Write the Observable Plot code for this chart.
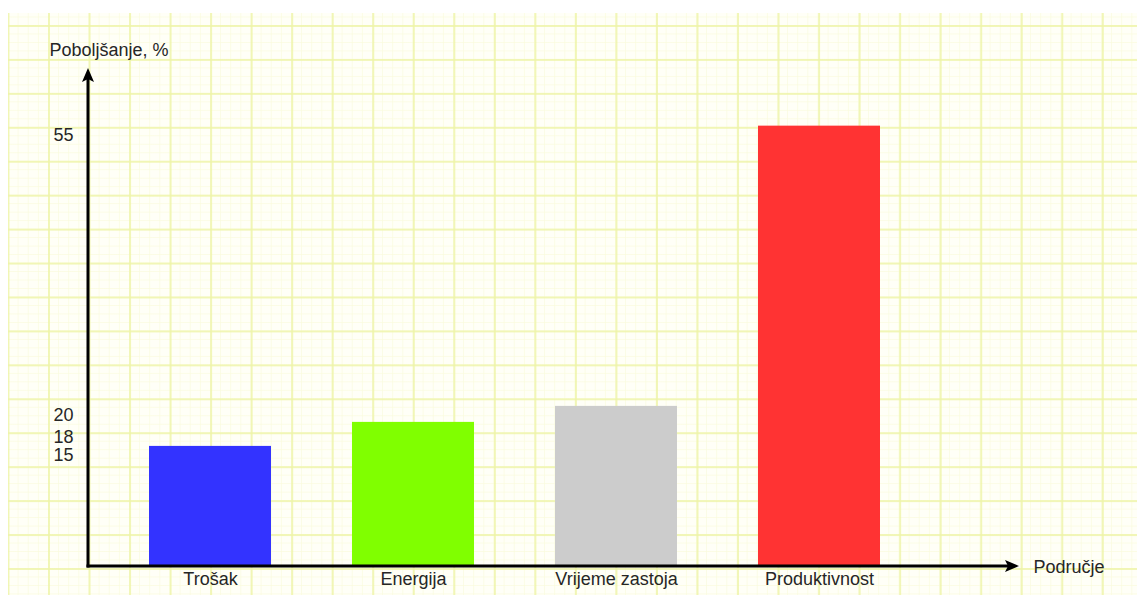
<!DOCTYPE html>
<html>
<head>
<meta charset="utf-8">
<script src="https://cdn.jsdelivr.net/npm/d3@7"></script>
<script src="https://cdn.jsdelivr.net/npm/@observablehq/plot@0.6"></script>
<style>
  html, body { margin: 0; padding: 0; background: #ffffff; }
  #wrap { position: relative; width: 1137px; height: 595px; overflow: hidden; }
  #grid {
    position: absolute; left: 8px; top: 13px; right: 0; bottom: 0;
    background-color: #fffff7;
    background-image:
      linear-gradient(to right, rgba(238, 244, 168, 0.8) 1.5px, transparent 1.5px),
      linear-gradient(to bottom, rgba(238, 244, 168, 0.8) 1.5px, transparent 1.5px),
      linear-gradient(to right, rgba(250, 251, 222, 0.75) 1px, transparent 1px),
      linear-gradient(to bottom, rgba(250, 251, 222, 0.75) 1px, transparent 1px);
    background-size: 40.54px 33.95px, 40.54px 33.95px, 10.135px 8.4875px, 10.135px 8.4875px;
    background-position: -0.5px 12px, -0.5px 12px, -0.5px 12px, -0.5px 12px;
  }
  #chart { position: absolute; left: 0; top: 0; }
</style>
</head>
<body>
<div id="wrap"><div id="grid"></div><div id="chart"></div></div>
<script>
const categories = ["Trošak", "Energija", "Vrijeme zastoja", "Produktivnost"];
const values = [15, 18, 20, 55];
const barColors = ["#3333ff", "#80ff00", "#cccccc", "#ff3333"];
const yTicks = [15, 18, 20, 55];
const yAxisLabel = "Poboljšanje, %";
const xAxisLabel = "Područje";

const data = categories.map((c, i) => ({category: c, value: values[i]}));

const plot = Plot.plot({
  width: 1137,
  height: 595,
  marginLeft: 88,
  marginRight: 118,
  marginTop: 68,
  marginBottom: 29,
  style: {background: "transparent", fontFamily: "'Liberation Sans', Arial, sans-serif", fontSize: "18px", color: "#262626"},
  x: {domain: categories, paddingInner: 0.4, paddingOuter: 0.493, align: 0.305, label: null},
  y: {domain: [0, 62.2], label: null},
  color: {domain: categories, range: barColors},
  marks: [
    Plot.barY(data, {x: "category", y: "value", fill: "category"}),
    Plot.axisX({tickSize: 0, tickPadding: 6, label: null, fontSize: 18}),
    Plot.axisY({ticks: yTicks.filter(t => t !== 18), tickSize: 0, tickPadding: 15, dy: 9, label: null, fontSize: 18}),
    Plot.axisY({ticks: yTicks.filter(t => t === 18), tickSize: 0, tickPadding: 15, dy: 15, label: null, fontSize: 18}),
    Plot.text([yAxisLabel], {text: d => d, frameAnchor: "top-left", dx: -39, dy: -18, textAnchor: "start", lineAnchor: "middle", fill: "#262626", fontSize: 18}),
    Plot.text([xAxisLabel], {text: d => d, frameAnchor: "bottom-right", dx: 14, dy: 1, textAnchor: "start", lineAnchor: "middle", fill: "#262626", fontSize: 18})
  ]
});

document.getElementById("chart").appendChild(plot);

// Axis lines with arrowheads, positioned from the plot's own scales
const [xa, xb] = plot.scale("x").range;
const [ya, yb] = plot.scale("y").range;
const svg = d3.select(plot);
const g = svg.append("g");
g.append("path")
  .attr("d", `M${xa},${ya + 1.5}V${yb + 10}`)
  .attr("stroke", "#000").attr("stroke-width", 3).attr("fill", "none");
g.append("path")
  .attr("d", `M${xa - 1.5},${ya}H${xb - 10}`)
  .attr("stroke", "#000").attr("stroke-width", 3).attr("fill", "none");
g.append("path")
  .attr("d", `M${xa},${yb}L${xa - 6},${yb + 14}L${xa},${yb + 11}L${xa + 6},${yb + 14}Z`)
  .attr("fill", "#000");
g.append("path")
  .attr("d", `M${xb},${ya}L${xb - 14},${ya - 6}L${xb - 11},${ya}L${xb - 14},${ya + 6}Z`)
  .attr("fill", "#000");
</script>
</body>
</html>
